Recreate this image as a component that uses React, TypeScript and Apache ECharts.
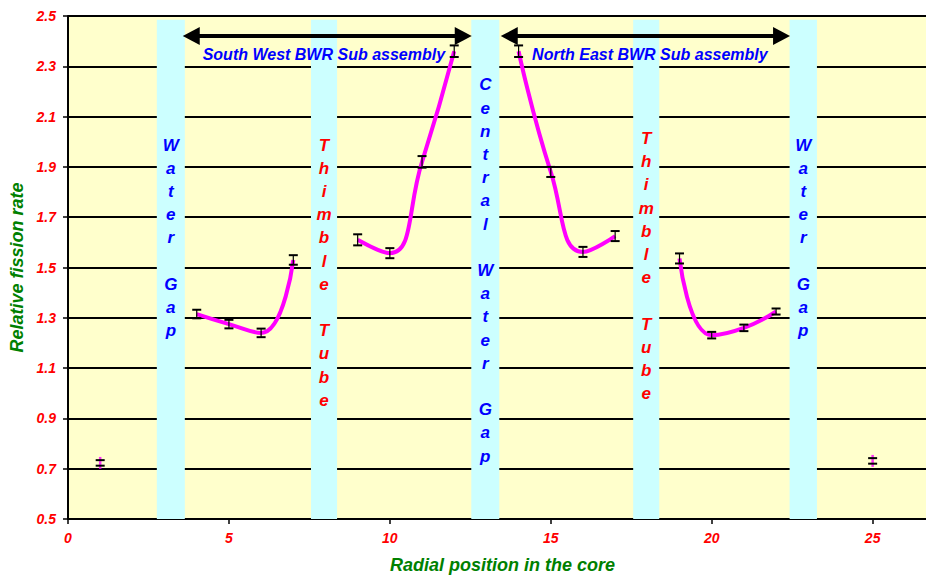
import React, { useEffect, useRef } from "react";
import * as echarts from "echarts";

// ---- data ----
const positions = [1, 4, 5, 6, 7, 9, 10, 11, 12, 14, 15, 16, 17, 19, 20, 21, 22, 25];
const fissionRates = [0.723, 1.315, 1.275, 1.24, 1.53, 1.61, 1.557, 1.92, 2.36, 2.36, 1.88, 1.562, 1.625, 1.536, 1.231, 1.26, 1.325, 0.731];
const uncertainties = [0.011, 0.017, 0.017, 0.017, 0.019, 0.022, 0.02, 0.023, 0.023, 0.023, 0.02, 0.02, 0.02, 0.02, 0.013, 0.013, 0.012, 0.011];
// x ranges of connected (smoothed) line segments
const lineSegments = [[4, 7], [9, 12], [14, 17], [19, 22]];
// isolated measurement positions (no line)
const isolatedPositions = [1, 25];

const xTicks = [0, 5, 10, 15, 20, 25];
const yTicks = [0.5, 0.7, 0.9, 1.1, 1.3, 1.5, 1.7, 1.9, 2.1, 2.3, 2.5];

// annotation bands (x ranges)
const bandRanges = [[2.76, 3.63], [7.55, 8.36], [12.53, 13.4], [17.56, 18.37], [22.42, 23.27]];
const bandTop = 2.485;
const bandWords = [["Water", "Gap"], ["Thimble", "Tube"], ["Central", "Water", "Gap"], ["Thimble", "Tube"], ["Water", "Gap"]];
const bandTextColors = ["#0000FF", "#FF0000", "#0000FF", "#FF0000", "#0000FF"];
const bandTextTop = [2.033, 2.033, 2.272, 2.059, 2.033];

const arrowSpans = [[3.83, 12.28], [13.71, 22.17]];
const arrowLevel = 2.42;
const arrowLabels = ["South West BWR Sub assembly", "North East BWR Sub assembly"];
const arrowLabelX = [7.95, 18.08];
const arrowLabelY = 2.345;

const FONT = "Liberation Sans, Arial, sans-serif";

export default function App() {
  const ref = useRef<HTMLDivElement>(null);

  useEffect(() => {
    if (!ref.current) return;
    const chart = echarts.init(ref.current, null, { renderer: "svg" });

    const points = positions.map((x, i) => [x, fissionRates[i], uncertainties[i]]);

    const segmentSeries = lineSegments.map(([a, b], si) => ({
      type: "line",
      z: 2,
      smooth: 0.5,
      showSymbol: false,
      symbol: "none",
      silent: true,
      lineStyle: { color: "#FF00FF", width: 4 },
      data: positions
        .map((x, i) => [x, fissionRates[i]])
        .filter((p) => p[0] >= a && p[0] <= b),
      ...(si === 0
        ? {
            markArea: {
              silent: true,
              itemStyle: { color: "#CCFFFF", opacity: 1 },
              data: bandRanges.map(([x0, x1]) => [
                { xAxis: x0, yAxis: 0.5 },
                { xAxis: x1, yAxis: bandTop },
              ]),
            },
            markLine: {
              silent: true,
              symbol: ["triangle", "triangle"],
              symbolSize: [18, 17],
              label: { show: false },
              lineStyle: { color: "#000", width: 4, type: "solid" },
              data: arrowSpans.map(([x0, x1]) => [
                { coord: [x0, arrowLevel] },
                { coord: [x1, arrowLevel] },
              ]),
            },
          }
        : {}),
    }));

    const option: any = {
      animation: false,
      backgroundColor: "#FFFFFF",
      grid: {
        left: 68,
        top: 16,
        width: 869,
        height: 503,
        outerBoundsMode: "none",
        containLabel: false,
        show: true,
        backgroundColor: "#FFFFCC",
        borderWidth: 0,
      },
      xAxis: {
        type: "value",
        min: 0,
        max: 27,
        interval: 5,
        name: "Radial position in the core",
        nameLocation: "middle",
        nameGap: 37,
        nameTextStyle: { color: "#008000", fontSize: 18, fontWeight: "bold", fontStyle: "italic", fontFamily: FONT },
        axisLine: { show: true, lineStyle: { color: "#000", width: 2 } },
        axisTick: { show: true, length: 5, lineStyle: { color: "#000", width: 1.5 } },
        splitLine: { show: false },
        axisLabel: {
          margin: 12,
          color: "#FF0000",
          fontSize: 14,
          fontWeight: "bold",
          fontStyle: "italic",
          fontFamily: FONT,
          formatter: (v: number) => (xTicks.includes(v) ? String(v) : ""),
        },
      },
      yAxis: {
        type: "value",
        min: yTicks[0],
        max: yTicks[yTicks.length - 1],
        interval: 0.2,
        name: "Relative fission rate",
        nameLocation: "middle",
        nameGap: 41,
        nameTextStyle: { color: "#008000", fontSize: 18, fontWeight: "bold", fontStyle: "italic", fontFamily: FONT },
        axisLine: { show: true, lineStyle: { color: "#000", width: 2 } },
        axisTick: { show: true, length: 5, lineStyle: { color: "#000", width: 1.5 } },
        splitLine: { show: true, lineStyle: { color: "#000", width: 2 } },
        axisLabel: {
          margin: 12,
          color: "#FF0000",
          fontSize: 14,
          fontWeight: "bold",
          fontStyle: "italic",
          fontFamily: FONT,
          formatter: (v: number) => v.toFixed(1),
        },
      },
      series: [
        ...segmentSeries,
        {
          type: "scatter",
          z: 3,
          silent: true,
          symbol: "rect",
          symbolSize: [2.5, 12],
          itemStyle: { color: "#FF00FF" },
          data: positions
            .map((x, i) => [x, fissionRates[i]])
            .filter((p) => isolatedPositions.includes(p[0])),
        },
        {
          type: "custom",
          z: 4,
          silent: true,
          data: points,
          renderItem: (_params: any, api: any) => {
            const x = api.value(0);
            const y = api.value(1);
            const e = api.value(2);
            const top = api.coord([x, y + e]);
            const bot = api.coord([x, y - e]);
            const hw = 4.5;
            const isolated = isolatedPositions.includes(x);
            const children: any[] = [
              {
                type: "line",
                shape: { x1: top[0] - hw, y1: top[1], x2: top[0] + hw, y2: top[1] },
                style: { stroke: "#000", lineWidth: 2 },
              },
              {
                type: "line",
                shape: { x1: bot[0] - hw, y1: bot[1], x2: bot[0] + hw, y2: bot[1] },
                style: { stroke: "#000", lineWidth: 2 },
              },
            ];
            if (!isolated) {
              children.push({
                type: "line",
                shape: { x1: top[0], y1: top[1], x2: bot[0], y2: bot[1] },
                style: { stroke: "#000", lineWidth: 1.2 },
              });
            }
            return { type: "group", children };
          },
        },
      ],
    };

    chart.setOption(option);

    const px = (x: number, y: number) => chart.convertToPixel({ gridIndex: 0 }, [x, y]) as number[];

    const graphics: any[] = [];
    bandRanges.forEach(([x0, x1], i) => {
      const p = px((x0 + x1) / 2, bandTextTop[i]);
      const text = bandWords[i].map((w) => w.split("").join("\n")).join("\n\n");
      graphics.push({
        type: "text",
        x: p[0],
        y: p[1],
        z: 10,
        silent: true,
        style: {
          text,
          fill: bandTextColors[i],
          fontSize: 17,
          fontWeight: "bold",
          fontStyle: "italic",
          fontFamily: FONT,
          lineHeight: 23.2,
          align: "center",
          verticalAlign: "top",
        },
      });
    });
    arrowLabels.forEach((t, i) => {
      const p = px(arrowLabelX[i], arrowLabelY);
      graphics.push({
        type: "text",
        x: p[0],
        y: p[1],
        z: 10,
        silent: true,
        style: {
          text: t,
          fill: "#0000FF",
          fontSize: 16,
          fontWeight: "bold",
          fontStyle: "italic",
          fontFamily: FONT,
          align: "center",
          verticalAlign: "middle",
        },
      });
    });
    chart.setOption({ graphic: graphics });

    return () => chart.dispose();
  }, []);

  return (
    <div
      ref={ref}
      style={{ position: "absolute", left: 0, top: 0, width: 926, height: 577, overflow: "hidden" }}
    />
  );
}
